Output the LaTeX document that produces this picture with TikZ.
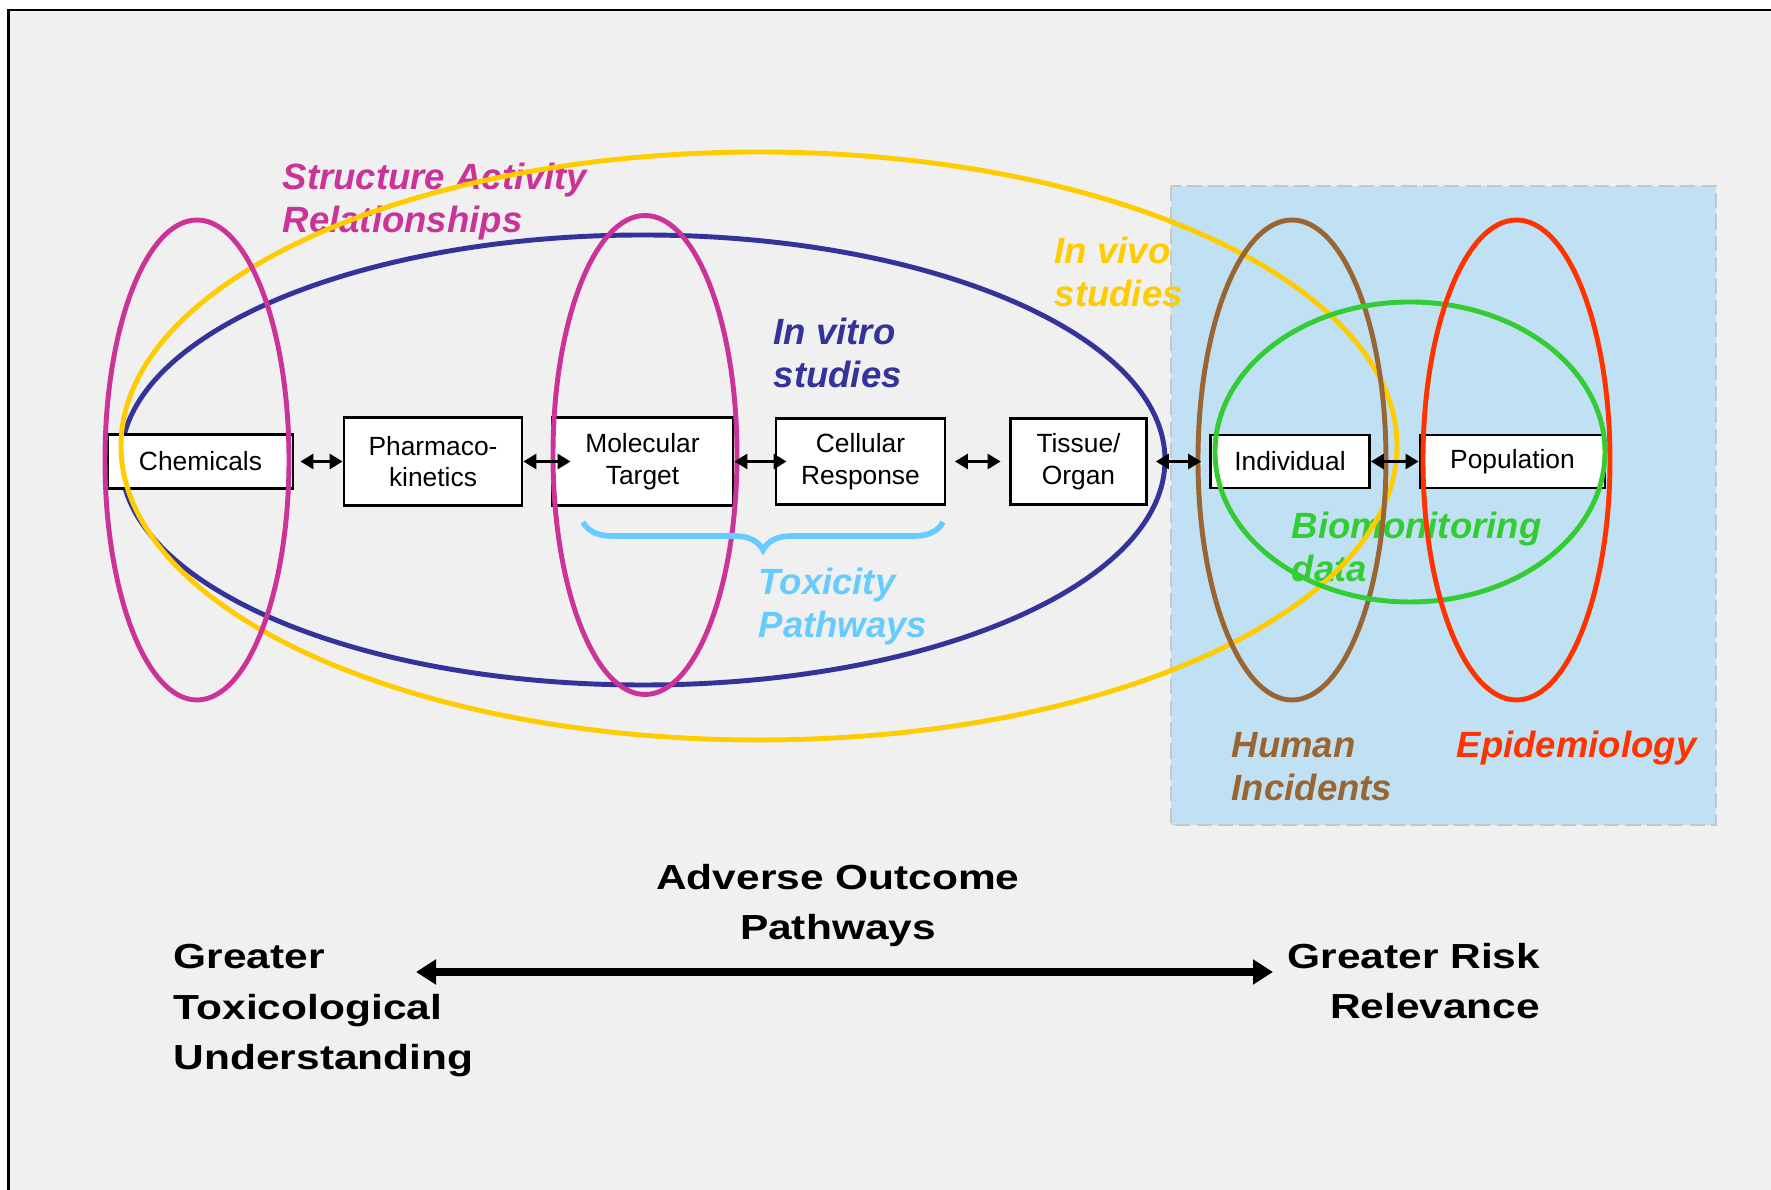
\documentclass[tikz,border=0pt]{standalone}
\usepackage{fontspec}
\setmainfont{Liberation Sans}
\usetikzlibrary{arrows.meta, decorations.pathreplacing}

\definecolor{bgray}{HTML}{F0F0F0}
\definecolor{rblue}{HTML}{C0E1F3}
\definecolor{vivo}{HTML}{FFCC00}
\definecolor{vitro}{HTML}{333399}
\definecolor{sar}{HTML}{CC3399}
\definecolor{human}{HTML}{996633}
\definecolor{epi}{HTML}{FF3300}
\definecolor{bio}{HTML}{33CC33}
\definecolor{tox}{HTML}{66CCFF}

\tikzset{
  stage/.style={draw, line width=0.8pt, fill=white, align=center, inner sep=0pt,
    font=\fontsize{7.5}{9}\selectfont},
  ring/.style={line width=1.4pt},
  lab/.style={anchor=base west, align=left, inner sep=0pt,
    font=\bfseries\itshape\fontsize{10.4}{12.4}\selectfont},
  big/.style={inner sep=0pt, xscale=1.22, font=\bfseries\fontsize{9.9}{14.5}\selectfont},
  link/.style={{Triangle[length=1.3mm,width=1.5mm]}-{Triangle[length=1.3mm,width=1.5mm]}, line width=0.8pt}}

\begin{document}
\begin{tikzpicture}
\useasboundingbox (0,0) rectangle (17.71,-11.90);
\fill[white] (0,0) rectangle (17.71,-11.90);
\fill[bgray] (0.09,-0.11) rectangle (17.71,-11.90);
\draw[line width=0.8pt] (0.085,-11.90) -- (0.085,-0.10) -- (17.71,-0.10);
% human data area
\draw[fill=rblue, draw=black!22, line width=0.8pt, dash pattern=on 4.3pt off 1.8pt]
  (11.71,-1.86) rectangle (17.16,-8.25);
\draw[ring, vitro] (6.43,-4.60) ellipse [x radius=5.22, y radius=2.25];
% levels of organisation
\node[stage, minimum width=1.85cm, minimum height=0.54cm] (chem) at (2.005,-4.615) {Chemicals};
\node[stage, minimum width=1.78cm, minimum height=0.88cm] (pk) at (4.33,-4.615) {Pharmaco-\\kinetics};
\node[stage, minimum width=1.81cm, minimum height=0.88cm] (mol) at (6.425,-4.615) {Molecular\\Target};
\node[stage, minimum width=1.69cm, minimum height=0.86cm] (cell) at (8.605,-4.615) {Cellular\\Response};
\node[stage, minimum width=1.36cm, minimum height=0.86cm] (tis) at (10.785,-4.615) {Tissue/\\Organ};
\node[stage, minimum width=1.59cm, minimum height=0.53cm] (ind) at (12.90,-4.615) {Individual};
\node[stage, minimum width=1.85cm, minimum height=0.53cm] (pop) at (15.125,-4.615) {Population};
% labels (base = last line)
\node[lab, sar] (sarl) at (2.82,-2.33) {Structure Activity\\Relationships};
\node[lab, vivo] (vivol) at (10.54,-3.07) {In vivo\\studies};
\node[lab, vitro] (vitrol) at (7.73,-3.88) {In vitro\\studies};
\node[lab, tox] (toxl) at (7.58,-6.38) {Toxicity\\Pathways};
\node[lab, bio] (biol) at (12.91,-5.82) {Biomonitoring\\data};
\node[lab, human] (huml) at (12.31,-8.01) {Human\\Incidents};
\node[lab, epi] (epil) at (14.56,-7.58) {Epidemiology};
% rings
\draw[ring, vivo] (7.59,-4.46) ellipse [x radius=6.38, y radius=2.94];
\draw[ring, sar] (1.97,-4.60) ellipse [x radius=0.92, y radius=2.40];
\draw[ring, sar] (6.45,-4.55) ellipse [x radius=0.92, y radius=2.395];
\draw[ring, human] (12.92,-4.60) ellipse [x radius=0.94, y radius=2.40];
\draw[ring, bio] (14.10,-4.52) ellipse [x radius=1.95, y radius=1.50];
\draw[ring, epi] (15.165,-4.60) ellipse [x radius=0.935, y radius=2.40];
% links
\draw[link, shorten <=0.6mm] (chem) -- (pk);
\draw[link, shorten >=-2mm] (pk) -- (mol);
\draw[link, shorten >=-1.2mm] (mol) -- (cell);
\draw[link, shorten <=0.85mm, shorten >=0.85mm] (cell) -- (tis);
\draw[link, shorten <=0.8mm, shorten >=0.8mm] (tis) -- (ind);
\draw[link] (ind) -- (pop);
% toxicity pathway brace
\coordinate (bl) at (5.83,-5.22);
\coordinate (br) at (9.43,-5.22);
\draw[tox, line width=1.6pt, decorate, decoration={brace, amplitude=0.28cm}] (br) -- (bl);
% bottom axis
\node[big, anchor=base, align=center] (aop) at (8.38,-9.40) {Adverse Outcome\\Pathways};
\node[big, anchor=base west, align=left] (tu) at (1.73,-10.70) {Greater\\Toxicological\\Understanding};
\node[big, anchor=base east, align=right] (rr) at (15.41,-10.19) {Greater Risk\\Relevance};
\coordinate (lt) at (4.16,-9.72);
\coordinate (rt) at (12.73,-9.72);
\draw[line width=2.2pt, {Triangle[length=0.2cm,width=0.24cm]}-{Triangle[length=0.2cm,width=0.24cm]}] (lt) -- (rt);
\end{tikzpicture}
\end{document}
